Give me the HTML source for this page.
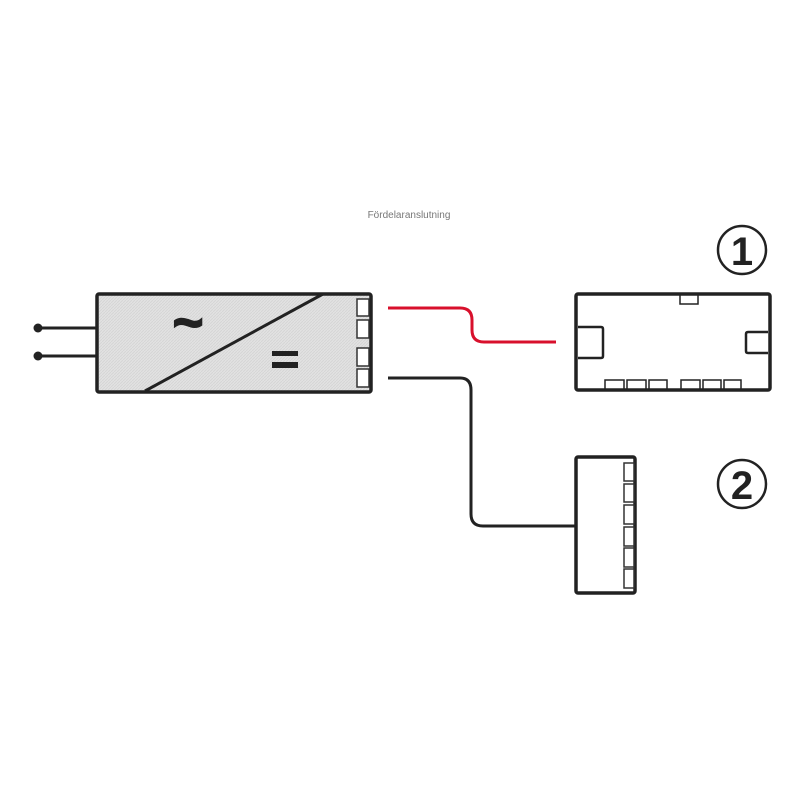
<!DOCTYPE html>
<html><head><meta charset="utf-8"><style>
html,body{margin:0;padding:0;background:#fff;}
svg{display:block;}
</style></head><body>
<svg width="800" height="800" viewBox="0 0 800 800" xmlns="http://www.w3.org/2000/svg">
<defs>
<pattern id="h" width="3" height="3" patternUnits="userSpaceOnUse">
<rect width="3" height="3" fill="#e2e2e2"/><path d="M0 3L3 0" stroke="#d4d4d4" stroke-width="0.8"/>
</pattern>
</defs>
<text x="409" y="218" font-family="Liberation Sans, sans-serif" font-size="10" fill="#777" text-anchor="middle">Fördelaranslutning</text>
<line x1="38" y1="328" x2="97" y2="328" stroke="#222" stroke-width="3"/>
<line x1="38" y1="356" x2="97" y2="356" stroke="#222" stroke-width="3"/>
<circle cx="38" cy="328" r="4.5" fill="#222"/>
<circle cx="38" cy="356" r="4.5" fill="#222"/>
<rect x="97" y="294" width="274" height="98" rx="2" fill="url(#h)" stroke="#222" stroke-width="3.5"/>
<line x1="145" y1="391" x2="323" y2="294" stroke="#222" stroke-width="3"/>
<g fill="#fff" stroke="#333" stroke-width="1.5">
<rect x="357" y="299" width="12" height="17"/><rect x="357" y="320" width="12" height="18"/>
<rect x="357" y="348" width="12" height="18"/><rect x="357" y="369" width="12" height="18"/>
</g>
<text x="188" y="340" font-family="Liberation Sans, sans-serif" font-size="52" font-weight="bold" fill="#222" stroke="#222" stroke-width="2" text-anchor="middle">~</text>
<rect x="272" y="351" width="26" height="5" fill="#222"/>
<rect x="272" y="362" width="26" height="6" fill="#222"/>
<path d="M388 308 H460 Q472 308 472 320 V330 Q472 342 484 342 H556" fill="none" stroke="#d8102c" stroke-width="3"/>
<path d="M388 378 H460 Q471 378 471 390 V514 Q471 526 483 526 H577" fill="none" stroke="#222" stroke-width="3"/>
<rect x="576" y="294" width="194" height="96" rx="2" fill="#fff" stroke="#222" stroke-width="3.5"/>
<g fill="#fff" stroke="#222" stroke-width="1.5">
<rect x="680" y="295" width="18" height="9"/>
<path d="M578 327 H601 Q603 327 603 329 V356 Q603 358 601 358 H578" stroke-width="2.5"/>
<path d="M768 332 H748 Q746 332 746 334 V351 Q746 353 748 353 H768" stroke-width="2.5"/>
<rect x="605" y="380" width="19" height="9"/><rect x="627" y="380" width="19" height="9"/><rect x="649" y="380" width="18" height="9"/>
<rect x="681" y="380" width="19" height="9"/><rect x="703" y="380" width="18" height="9"/><rect x="724" y="380" width="17" height="9"/>
</g>
<circle cx="742" cy="250" r="24" fill="none" stroke="#222" stroke-width="2.5"/>
<text x="742" y="265" font-family="Liberation Sans, sans-serif" font-size="40" font-weight="bold" fill="#222" text-anchor="middle">1</text>
<rect x="576" y="457" width="59" height="136" rx="2" fill="#fff" stroke="#222" stroke-width="3.5"/>
<g fill="#fff" stroke="#333" stroke-width="1.5">
<rect x="624" y="463" width="10" height="18"/><rect x="624" y="484" width="10" height="18"/>
<rect x="624" y="505" width="10" height="19"/><rect x="624" y="527" width="10" height="19"/>
<rect x="624" y="548" width="10" height="19"/><rect x="624" y="569" width="10" height="19"/>
</g>
<circle cx="742" cy="484" r="24" fill="none" stroke="#222" stroke-width="2.5"/>
<text x="742" y="499" font-family="Liberation Sans, sans-serif" font-size="40" font-weight="bold" fill="#222" text-anchor="middle">2</text>
</svg>
</body></html>
